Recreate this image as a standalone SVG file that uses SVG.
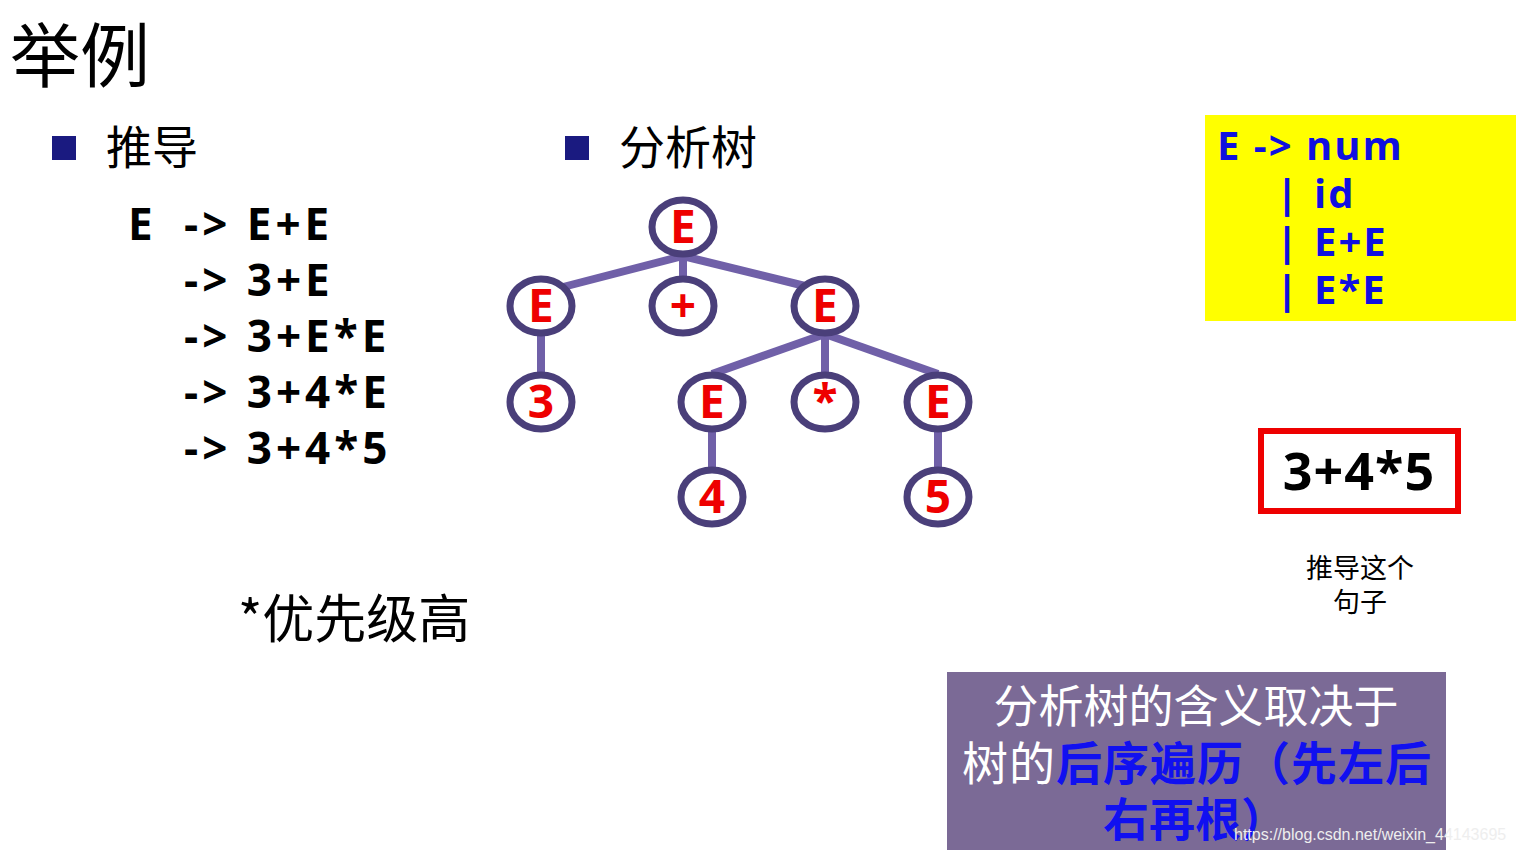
<svg xmlns="http://www.w3.org/2000/svg" width="1516" height="854" viewBox="0 0 1516 854">
<style>
.cn{font-family:"Noto Sans CJK SC","Microsoft YaHei",sans-serif}
.b{font-family:"Open Sans","DejaVu Sans",sans-serif;font-weight:bold}
.nd ellipse{fill:#fff;stroke:#4a3f7a;stroke-width:7}
.nd text{fill:#ee0000;font-family:"Open Sans","DejaVu Sans",sans-serif;font-weight:bold;font-size:46px;text-anchor:middle}
.ed line{stroke:#7060a8;stroke-width:8}
</style>
<rect width="1516" height="854" fill="#fff"/>
<text x="10" y="82" class="cn" font-size="70">举例</text>
<rect x="52" y="136" width="24" height="24" fill="#1a1a80"/>
<text x="106" y="164" class="cn" font-size="46">推导</text>
<rect x="565" y="136" width="24" height="24" fill="#1a1a80"/>
<text x="619" y="164" class="cn" font-size="46">分析树</text>
<g class="b" font-size="44" fill="#000" letter-spacing="4">
<text x="128" y="240">E</text><text x="184" y="240">-&gt; E+E</text>
<text x="184" y="296">-&gt; 3+E</text>
<text x="184" y="352">-&gt; 3+E*E</text>
<text x="184" y="408">-&gt; 3+4*E</text>
<text x="184" y="464">-&gt; 3+4*5</text>
</g>
<text x="238" y="638" class="cn" font-size="52">*优先级高</text>
<g id="connectors" class="ed">
<line x1="683" y1="256" x2="563" y2="287"/>
<line x1="683" y1="256" x2="683" y2="280"/>
<line x1="683" y1="256" x2="805" y2="286"/>
<line x1="541" y1="334" x2="541" y2="376"/>
<line x1="825" y1="334" x2="712" y2="374"/>
<line x1="825" y1="334" x2="825" y2="376"/>
<line x1="825" y1="334" x2="938" y2="374"/>
<line x1="712" y1="430" x2="712" y2="470"/>
<line x1="938" y1="430" x2="938" y2="470"/>
</g>
<g id="n1" class="nd"><ellipse cx="683" cy="227" rx="31" ry="27"/><text x="683" y="243">E</text></g>
<g id="n2" class="nd"><ellipse cx="541" cy="306" rx="31" ry="27"/><text x="541" y="322">E</text></g>
<g id="n3" class="nd"><ellipse cx="683" cy="306" rx="31" ry="27"/><text x="683" y="322">+</text></g>
<g id="n4" class="nd"><ellipse cx="825" cy="306" rx="31" ry="27"/><text x="825" y="322">E</text></g>
<g id="n5" class="nd"><ellipse cx="541" cy="402" rx="31" ry="27"/><text x="541" y="418">3</text></g>
<g id="n6" class="nd"><ellipse cx="712" cy="402" rx="31" ry="27"/><text x="712" y="418">E</text></g>
<g id="n7" class="nd"><ellipse cx="825" cy="402" rx="31" ry="27"/><text x="825" y="418">*</text></g>
<g id="n8" class="nd"><ellipse cx="938" cy="402" rx="31" ry="27"/><text x="938" y="418">E</text></g>
<g id="n9" class="nd"><ellipse cx="712" cy="497" rx="31" ry="27"/><text x="712" y="513">4</text></g>
<g id="n10" class="nd"><ellipse cx="938" cy="497" rx="31" ry="27"/><text x="938" y="513">5</text></g>
<g id="grammar">
<rect x="1205" y="115" width="311" height="206" fill="#ffff00"/>
<g class="b" font-size="40" fill="#1010e0" letter-spacing="2">
<text x="1217" y="160">E -&gt; num</text>
<text x="1276" y="208">|</text><text x="1314" y="208">id</text>
<text x="1276" y="256">|</text><text x="1314" y="256">E+E</text>
<text x="1276" y="304">|</text><text x="1314" y="304">E*E</text>
</g>
</g>
<g id="sentence">
<rect x="1261" y="431" width="197" height="80" fill="#fff" stroke="#ee0000" stroke-width="6"/>
<text x="1359" y="490" class="b" font-size="52" text-anchor="middle" letter-spacing="1">3+4*5</text>
</g>
<text x="1360" y="578" class="cn" font-size="27" text-anchor="middle">推导这个</text>
<text x="1360" y="612" class="cn" font-size="27" text-anchor="middle">句子</text>
<g id="note">
<rect x="947" y="672" width="499" height="178" fill="#7b6a96"/>
<text x="1196" y="723" class="cn" font-size="45" fill="#fff" text-anchor="middle">分析树的含义取决于</text>
<text x="962" y="780" class="cn" font-size="46" fill="#fff" letter-spacing="1">树的<tspan fill="#1010f0" font-weight="bold">后序遍历（先左后</tspan></text>
<text x="1103" y="836" class="cn" font-size="46" fill="#1010f0" font-weight="bold">右再根）</text>
<text x="1234" y="840" font-family="Liberation Sans,sans-serif" font-size="16" fill="#eeeeee">https://blog.csdn.net/weixin_44143695</text>
</g>
</svg>
